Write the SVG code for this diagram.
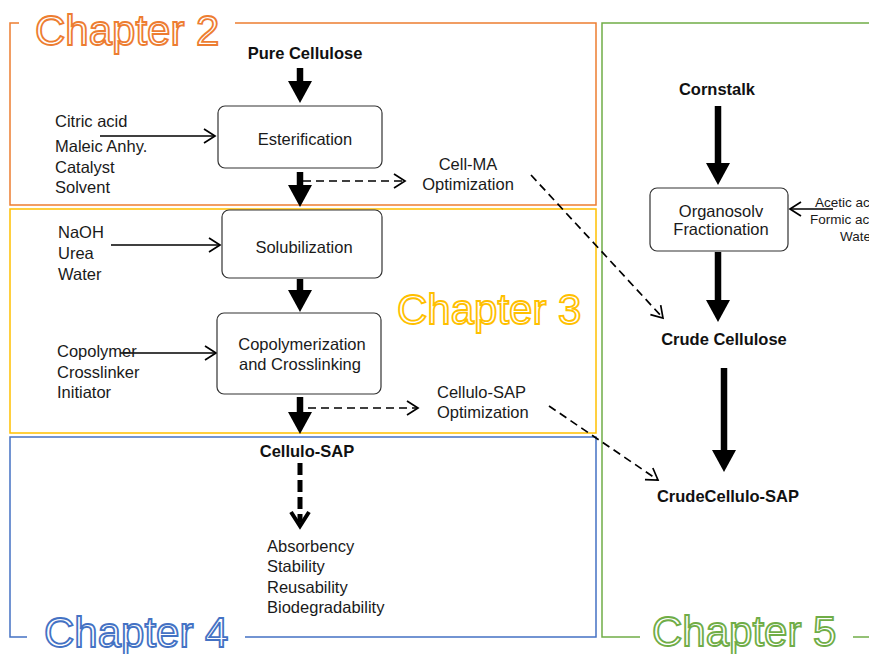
<svg xmlns="http://www.w3.org/2000/svg" width="869" height="654" viewBox="0 0 869 654">
<style>
.t{font-family:"Liberation Sans",Arial,sans-serif;font-size:16.5px;fill:#1a1a1a}
.b{font-family:"Liberation Sans",Arial,sans-serif;font-size:16.5px;font-weight:bold;fill:#111}
.s{font-family:"Liberation Sans",Arial,sans-serif;font-size:13.5px;fill:#1a1a1a}
.m{text-anchor:middle}
.ch{font-family:"Liberation Sans",Arial,sans-serif;font-size:42px;fill:#fff;stroke-width:1.8}
.box{fill:#fff;stroke:#333;stroke-width:1.2}
.frame{fill:none;stroke-width:1.5}
.thick{stroke:#000;stroke-width:6.5;fill:none}
.thin{stroke:#000;stroke-width:1.6;fill:none}
.dash{stroke:#000;stroke-width:1.7;fill:none;stroke-dasharray:8 5}
</style>
<defs>
<marker id="big" markerUnits="userSpaceOnUse" markerWidth="22" markerHeight="24" viewBox="0 0 22 24" refX="2" refY="12" orient="auto"><path d="M0,0 L22,12 L0,24 Z" fill="#000"/></marker>
<marker id="open" markerUnits="userSpaceOnUse" markerWidth="14" markerHeight="16" viewBox="0 0 14 16" refX="12" refY="8" orient="auto"><path d="M1,1 L12,8 L1,15" fill="none" stroke="#000" stroke-width="1.7"/></marker>
</defs>

<g id="chapter2">
<path class="frame" stroke="#ED7D31" d="M19,23 H10 V205 H596 V23 H235"/>
<text class="ch" stroke="#ED7D31" x="35" y="45">Chapter 2</text>
</g>
<g id="chapter3">
<rect class="frame" stroke="#FFC000" x="10" y="209" width="586" height="224"/>
<text class="ch" stroke="#FFC000" x="397" y="324">Chapter 3</text>
</g>
<g id="chapter4">
<path class="frame" stroke="#4472C4" d="M27,637 H10 V437 H596 V637 H245"/>
<text class="ch" stroke="#4472C4" x="44" y="647">Chapter 4</text>
</g>
<g id="chapter5">
<path class="frame" stroke="#70AD47" d="M640,637 H602 V23 H875"/>
<path class="frame" stroke="#70AD47" d="M853,637 H875"/>
<text class="ch" stroke="#70AD47" x="652" y="646">Chapter 5</text>
</g>

<g id="connectors">
<line class="thick" x1="300" y1="68" x2="300" y2="83" marker-end="url(#big)"/>
<line class="thick" x1="300" y1="172" x2="300" y2="187" marker-end="url(#big)"/>
<line class="thick" x1="300" y1="279" x2="300" y2="292" marker-end="url(#big)"/>
<line class="thick" x1="300" y1="397" x2="300" y2="414" marker-end="url(#big)"/>
<line class="thick" x1="718" y1="106" x2="718" y2="165" marker-end="url(#big)"/>
<line class="thick" x1="718" y1="252" x2="718" y2="302" marker-end="url(#big)"/>
<line class="thick" x1="724" y1="368" x2="724" y2="452" marker-end="url(#big)"/>
<line class="thin" x1="100" y1="136" x2="215" y2="136" marker-end="url(#open)"/>
<line class="thin" x1="111" y1="245" x2="220" y2="245" marker-end="url(#open)"/>
<line class="thin" x1="120" y1="353" x2="216" y2="353" marker-end="url(#open)"/>
<line class="thin" x1="833" y1="209" x2="790" y2="209" marker-end="url(#open)"/>
<line class="dash" x1="303" y1="181" x2="405" y2="181" marker-end="url(#open)"/>
<line class="dash" x1="308" y1="408" x2="418" y2="408" marker-end="url(#open)"/>
<line class="dash" x1="531" y1="175" x2="663" y2="318" marker-end="url(#open)"/>
<line class="dash" x1="549" y1="406" x2="658" y2="480" marker-end="url(#open)"/>
<line stroke="#000" stroke-width="5" stroke-dasharray="12 5" x1="300" y1="463" x2="300" y2="522"/>
<path d="M291,512 L300,526 L309,512" fill="none" stroke="#000" stroke-width="4"/>
</g>

<g id="pure-cellulose"><text class="b m" x="305" y="59">Pure Cellulose</text></g>
<g id="esterification">
<rect class="box" x="218" y="106" width="164" height="62" rx="7"/>
<text class="t m" x="305" y="145">Esterification</text>
</g>
<g id="inputs-esterification">
<text class="t" x="55" y="127">Citric acid</text>
<text class="t" x="55" y="152">Maleic Anhy.</text>
<text class="t" x="55" y="173">Catalyst</text>
<text class="t" x="55" y="193">Solvent</text>
</g>
<g id="cell-ma">
<text class="t m" x="468" y="170">Cell-MA</text>
<text class="t m" x="468" y="190">Optimization</text>
</g>
<g id="inputs-solubilization">
<text class="t" x="58" y="238">NaOH</text>
<text class="t" x="58" y="259">Urea</text>
<text class="t" x="58" y="280">Water</text>
</g>
<g id="solubilization">
<rect class="box" x="222" y="210" width="160" height="68" rx="7"/>
<text class="t m" x="304" y="253">Solubilization</text>
</g>
<g id="copolymerization">
<rect class="box" x="217" y="313" width="164" height="81" rx="7"/>
<text class="t m" x="302" y="350">Copolymerization</text>
<text class="t m" x="300" y="370">and Crosslinking</text>
</g>
<g id="inputs-copolymerization">
<text class="t" x="57" y="357">Copolymer</text>
<text class="t" x="57" y="378">Crosslinker</text>
<text class="t" x="57" y="398">Initiator</text>
</g>
<g id="cellulo-sap-opt">
<text class="t" x="437" y="398">Cellulo-SAP</text>
<text class="t" x="437" y="418">Optimization</text>
</g>
<g id="cellulo-sap"><text class="b m" x="307" y="457">Cellulo-SAP</text></g>
<g id="properties">
<text class="t" x="267" y="552">Absorbency</text>
<text class="t" x="267" y="572">Stability</text>
<text class="t" x="267" y="593">Reusability</text>
<text class="t" x="267" y="613">Biodegradability</text>
</g>
<g id="cornstalk"><text class="b m" x="717" y="95">Cornstalk</text></g>
<g id="organosolv">
<rect class="box" x="650" y="188" width="138" height="63" rx="7"/>
<text class="t m" x="721" y="217">Organosolv</text>
<text class="t m" x="721" y="235">Fractionation</text>
</g>
<g id="inputs-organosolv">
<text class="s" x="815" y="207">Acetic acid</text>
<text class="s" x="810" y="224">Formic acid</text>
<text class="s" x="840" y="241">Water</text>
</g>
<g id="crude-cellulose"><text class="b m" x="724" y="345">Crude Cellulose</text></g>
<g id="crude-cellulo-sap"><text class="b m" x="728" y="502">CrudeCellulo-SAP</text></g>
</svg>
